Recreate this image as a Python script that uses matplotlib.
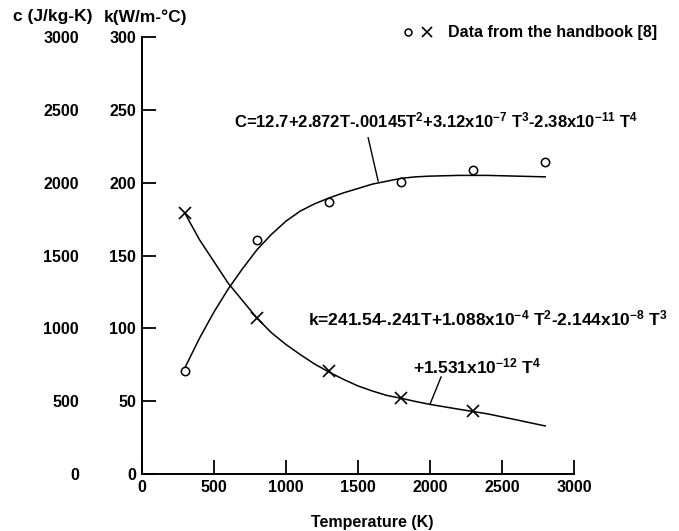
import matplotlib
matplotlib.use("Agg")
import matplotlib.pyplot as plt
from matplotlib.lines import Line2D
from matplotlib.legend_handler import HandlerTuple

plt.rcParams['font.family'] = ['Liberation Sans', 'DejaVu Sans']
plt.rcParams['font.weight'] = 'bold'
plt.rcParams['axes.labelweight'] = 'bold'
plt.rcParams['mathtext.fontset'] = 'custom'
plt.rcParams['mathtext.rm'] = 'Liberation Sans:bold'
plt.rcParams['mathtext.bf'] = 'Liberation Sans:bold'
plt.rcParams['mathtext.default'] = 'rm'

# handbook data points
T_data_c = [300, 800, 1300, 1800, 2300, 2800]
c_data = [710, 1605, 1870, 2005, 2090, 2140]          # J/kg-K
T_data_k = [300, 800, 1300, 1800, 2300]
k_data = [179, 107, 70.5, 52.5, 43.5]                  # W/m-C

# fitted curves
T_curve_c = [300, 400, 500, 600, 700, 800, 900, 1000, 1100, 1200, 1300, 1400,
             1500, 1600, 1700, 1800, 1900, 2000, 2200, 2400, 2600, 2800]
c_curve = [730, 930, 1110, 1270, 1410, 1540, 1645, 1735, 1805, 1855, 1895, 1930,
           1960, 1990, 2010, 2030, 2040, 2045, 2050, 2050, 2045, 2040]
T_curve_k = [300, 350, 400, 450, 500, 600, 700, 800, 900, 1000, 1100, 1200, 1300,
             1400, 1500, 1600, 1700, 1800, 1900, 2000, 2200, 2400, 2600, 2800]
k_curve = [179, 170, 161, 153.5, 146, 131, 119, 107, 97, 89, 82, 75.5, 70,
           65, 60.5, 57, 54, 52, 49.8, 47.8, 44.5, 41.3, 37.2, 33]

x_ticks = [0, 500, 1000, 1500, 2000, 2500, 3000]
k_ticks = [0, 50, 100, 150, 200, 250, 300]
c_ticks = [0, 500, 1000, 1500, 2000, 2500, 3000]

c_formula = ("C=12.7+2.872T-.00145T$^{2}$+3.12x10$^{-7}$ T$^{3}$"
             "-2.38x10$^{-11}$ T$^{4}$")
k_formula1 = "k=241.54-.241T+1.088x10$^{-4}$ T$^{2}$-2.144x10$^{-8}$ T$^{3}$"
k_formula2 = "+1.531x10$^{-12}$ T$^{4}$"

fig = plt.figure(figsize=(6.79, 5.31), dpi=100)
ax = fig.add_axes([0.2087, 0.1073, 0.6367, 0.8230])
ax.set_xlim(0, 3000)
ax.set_ylim(0, 300)
for s in ['top', 'right']:
    ax.spines[s].set_visible(False)
for s in ['left', 'bottom']:
    ax.spines[s].set_linewidth(1.4)
ax.set_xticks(x_ticks)
ax.set_yticks(k_ticks)
ax.tick_params(direction='in', length=10, width=1.3, labelsize=11.5, pad=4)

# second (c) scale on the left, labels only
axc = ax.twinx()
axc.set_ylim(0, 3000)
axc.spines['left'].set_position(('axes', -0.145))
for s in ['top', 'right', 'left', 'bottom']:
    axc.spines[s].set_visible(False)
axc.yaxis.set_ticks_position('left')
axc.set_yticks(c_ticks)
axc.tick_params(axis='y', length=0, pad=0, labelsize=11.5,
                left=True, labelleft=True, right=False, labelright=False)

axc.plot(T_curve_c, c_curve, color='black', lw=1.1, zorder=2)
axc.plot(T_data_c, c_data, 'o', ms=6, mfc='white', mec='black', mew=1.1, zorder=3)
ax.plot(T_curve_k, k_curve, color='black', lw=1.1, zorder=2)
ax.plot(T_data_k, k_data, 'x', ms=8, color='black', mew=1.2, zorder=3)

ax.set_xlabel('Temperature (K)', fontsize=11.5, fontweight='bold', va='center')
ax.xaxis.set_label_coords(0.533, -0.11)

fig.text(13 / 679, 1 - 17 / 531, 'c (J/kg-K)', fontsize=12.5, va='center')
fig.text(104 / 679, 1 - 17 / 531, 'k(W/m-°C)', fontsize=12.5, va='center')

# formula labels with leader lines
ax.text(640, 238, c_formula, fontsize=12, va='baseline')
ax.annotate('', xy=(1641, 201), xytext=(1571, 231),
            arrowprops=dict(arrowstyle='-', lw=1.0, color='black', shrinkA=0, shrinkB=0))
ax.text(1154, 102.3, k_formula1, fontsize=12.5, va='baseline')
ax.text(1881, 69.3, k_formula2, fontsize=12.5, va='baseline')
ax.annotate('', xy=(2000, 47.8), xytext=(2078, 66.8),
            arrowprops=dict(arrowstyle='-', lw=1.0, color='black', shrinkA=0, shrinkB=0))

h_o = Line2D([], [], ls='none', marker='o', ms=5, mfc='white', mec='black', mew=1.1)
h_x = Line2D([], [], ls='none', marker='x', ms=7, color='black', mew=1.2)
ax.legend([(h_o, h_x)], ['Data from the handbook [8]'],
          handler_map={tuple: HandlerTuple(ndivide=None, pad=0.2)},
          loc='center left', bbox_to_anchor=(400 / 679, 1 - 33 / 531),
          bbox_transform=fig.transFigure, frameon=False, fontsize=11.5,
          borderpad=0, borderaxespad=0, handlelength=2.2, handletextpad=0.8)

fig.savefig('out.png', dpi=100)
